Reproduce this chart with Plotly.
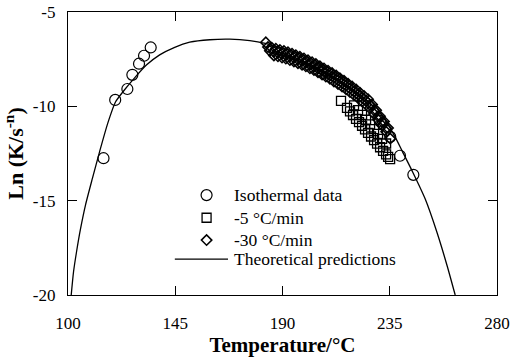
import plotly.graph_objects as go

# Theoretical Ln K vs temperature curve
theory_T = [101.35, 102.31, 103.57, 105.25, 107.36, 110.30, 113.24, 116.60, 119.97,
            123.75, 127.95, 133.00, 138.46, 144.77, 151.07, 159.48, 167.89, 176.29,
            183.31, 188.90, 193.11, 197.31, 201.51, 205.72, 209.92, 214.12, 218.33,
            222.53, 226.73, 232.20, 237.24, 240.18, 244.81, 249.85, 254.90, 259.10,
            262.46]
theory_lnK = [-20.00, -18.78, -17.72, -16.50, -15.22, -13.79, -12.41, -10.93, -9.76,
              -9.12, -8.49, -7.80, -7.27, -6.87, -6.60, -6.47, -6.44, -6.52,
              -6.68, -6.87, -7.02, -7.21, -7.45, -7.72, -8.01, -8.35, -8.71,
              -9.15, -9.65, -10.55, -11.62, -12.36, -13.53, -14.90, -16.71, -18.46,
              -20.00]

# Isothermal crystallization data
iso_T = [114.9, 119.8, 124.9, 127.0, 129.8, 131.9, 134.7, 230.9, 235.2, 239.3, 244.9]
iso_lnK = [-12.75, -9.66, -9.08, -8.33, -7.74, -7.32, -6.88, -10.77, -11.62, -12.62, -13.63]

# Non-isothermal, cooling at 5 C/min
cool5_T = [214.55, 217.07, 218.33, 219.59, 220.85, 222.11, 223.38, 224.64, 225.90,
           227.16, 228.42, 229.68, 230.94, 232.20, 233.47, 234.31, 235.15,
           220.01, 221.69, 223.38, 225.06, 226.74, 228.42, 230.10, 231.78, 233.47]
cool5_lnK = [-9.71, -10.08, -10.27, -10.46, -10.66, -10.84, -11.03, -11.22, -11.41,
             -11.60, -11.79, -11.98, -12.17, -12.36, -12.55, -12.68, -12.80,
             -9.95, -10.20, -10.45, -10.71, -10.96, -11.21, -11.46, -11.72, -11.97]

# Non-isothermal, cooling at 30 C/min
cool30_T = [183.0, 183.9, 185.5, 187.2, 188.9, 190.6, 192.3, 194.0, 195.6, 197.3, 199.0,
            200.7, 202.4, 204.0, 205.7, 207.4, 209.1, 210.8, 212.5, 214.1, 215.8,
            217.5, 219.2, 220.9, 222.5, 224.2, 225.9, 227.6, 229.3, 230.9, 232.6, 234.3,
            184.7, 186.4, 188.1, 189.7, 191.4, 193.1, 194.8, 196.5, 198.2, 199.8,
            201.5, 203.2, 204.9, 206.6, 208.2, 209.9, 211.6, 213.3, 215.0, 216.6,
            218.3, 220.0, 221.7, 223.4, 225.1, 226.7, 228.4, 230.1, 231.8, 233.5,
            186.4, 188.1, 189.8, 191.4, 193.1, 194.8, 196.5, 198.2, 199.8, 201.5,
            203.2, 204.9, 206.6, 208.2, 209.9, 211.6, 213.3, 215.0, 216.7, 218.3,
            220.0, 221.7, 223.4, 225.1, 226.7, 228.4, 230.1, 231.8, 233.5, 235.2]
cool30_lnK = [-6.61, -6.85, -6.90, -6.95, -7.01, -7.07, -7.14, -7.21, -7.29, -7.37, -7.46,
              -7.56, -7.66, -7.76, -7.88, -7.99, -8.11, -8.24, -8.37, -8.51, -8.65,
              -8.80, -8.95, -9.11, -9.28, -9.45, -9.62, -9.90, -10.21, -10.52, -10.80, -11.15,
              -7.06, -7.11, -7.16, -7.22, -7.29, -7.36, -7.43, -7.52, -7.60, -7.69,
              -7.79, -7.90, -8.00, -8.12, -8.24, -8.36, -8.49, -8.62, -8.76, -8.91,
              -9.06, -9.22, -9.38, -9.55, -9.72, -9.92, -10.21, -10.53, -10.82, -11.16,
              -7.30, -7.35, -7.41, -7.47, -7.55, -7.62, -7.71, -7.79, -7.88, -7.98,
              -8.08, -8.19, -8.31, -8.42, -8.54, -8.68, -8.81, -8.95, -9.10, -9.24,
              -9.40, -9.56, -9.73, -9.91, -10.10, -10.40, -10.71, -11.01, -11.35, -11.71]

x_ticks = [100, 145, 190, 235, 280]
y_ticks = [-5, -10, -15, -20]

# Legend entries (drawn inside the plot on an overlay frame spanning 0..1)
legend_labels = ["Isothermal data", "-5 °C/min", "-30 °C/min", "Theoretical predictions"]
legend_rows = [0.353, 0.273, 0.194, 0.127]
legend_key_x = 0.323
legend_line_x = [0.249, 0.373]
legend_text_x = 0.382

SERIF = "Liberation Serif"
INK = "black"

fig = go.Figure()

fig.add_trace(go.Scatter(
    x=theory_T, y=theory_lnK, mode="lines", showlegend=False,
    line=dict(color=INK, width=1.3, shape="spline", smoothing=0.6),
))

marker_styles = [
    dict(symbol="circle-open", size=11, color=INK, line=dict(width=1.2)),
    dict(symbol="square-open", size=9, color=INK, line=dict(width=1.3)),
    dict(symbol="diamond-open", size=8, color=INK, line=dict(width=1.5)),
]
series = [(iso_T, iso_lnK), (cool5_T, cool5_lnK), (cool30_T, cool30_lnK)]
for (xs, ys), mk in zip(series, marker_styles):
    fig.add_trace(go.Scatter(x=xs, y=ys, mode="markers", showlegend=False, marker=mk))

# legend keys
for row, mk in zip(legend_rows[:3], marker_styles):
    fig.add_trace(go.Scatter(x=[legend_key_x], y=[row], mode="markers", marker=mk,
                             xaxis="x2", yaxis="y2", showlegend=False, hoverinfo="skip"))
fig.add_trace(go.Scatter(x=legend_line_x, y=[legend_rows[3]] * 2, mode="lines",
                         line=dict(color=INK, width=1.3),
                         xaxis="x2", yaxis="y2", showlegend=False, hoverinfo="skip"))
for label, row in zip(legend_labels, legend_rows):
    fig.add_annotation(x=legend_text_x, y=row, xref="x2", yref="y2", text=label,
                       showarrow=False, xanchor="left", yanchor="middle",
                       font=dict(family=SERIF, size=17.5, color=INK))

axis_common = dict(
    showline=True, linecolor=INK, linewidth=1.3, mirror="allticks",
    ticks="inside", ticklen=9, tickwidth=1.2, tickcolor=INK,
    showgrid=False, zeroline=False, automargin=False,
    tickfont=dict(family=SERIF, size=17, color=INK),
)

fig.update_layout(
    width=511, height=357,
    margin=dict(l=68, r=14, t=12, b=62),
    paper_bgcolor="white", plot_bgcolor="white",
    showlegend=False,
    xaxis=dict(
        range=[100, 280], tickvals=x_ticks, ticktext=[str(v) for v in x_ticks],
        ticklabelstandoff=12,
        title=dict(text="<b>Temperature/°C</b>", standoff=3,
                   font=dict(family=SERIF, size=21, color=INK)),
        **axis_common,
    ),
    yaxis=dict(
        range=[-20, -5], tickvals=y_ticks, ticktext=[str(v) for v in y_ticks],
        ticklabelstandoff=8,
        title=dict(text="<b>Ln (K/s<sup>-n</sup>)</b>", standoff=8,
                   font=dict(family=SERIF, size=22, color=INK)),
        **axis_common,
    ),
    xaxis2=dict(overlaying="x", range=[0, 1], visible=False, fixedrange=True),
    yaxis2=dict(overlaying="y", range=[0, 1], visible=False, fixedrange=True),
)

fig.write_html("out.html")
